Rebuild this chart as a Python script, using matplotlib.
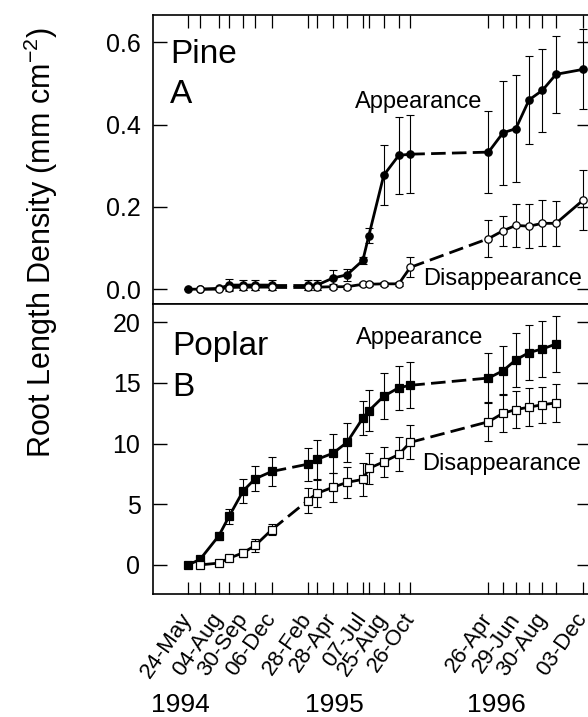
import numpy as np
import matplotlib
matplotlib.use("Agg")
import matplotlib.pyplot as plt
import matplotlib.dates as mdates

plt.rcParams['font.family'] = ['Liberation Sans', 'DejaVu Sans']
plt.rcParams['mathtext.default'] = 'regular'
plt.rcParams['lines.scale_dashes'] = False

# sampling dates (minirhizotron sessions)
dates = np.array(['1994-05-24', '1994-06-21', '1994-08-04', '1994-08-28',
                  '1994-09-30', '1994-10-28', '1994-12-06',
                  '1995-02-28', '1995-03-22', '1995-04-28', '1995-05-31',
                  '1995-07-07', '1995-07-21', '1995-08-25', '1995-09-29',
                  '1995-10-26',
                  '1996-04-26', '1996-05-30', '1996-06-29', '1996-07-30',
                  '1996-08-30', '1996-10-01', '1996-12-03'], dtype='datetime64[D]')
tick_text = ['24-May', '', '04-Aug', '', '30-Sep', '', '06-Dec',
             '28-Feb', '', '28-Apr', '', '07-Jul', '', '25-Aug', '', '26-Oct',
             '26-Apr', '', '29-Jun', '', '30-Aug', '', '03-Dec']
season = np.array([0] * 7 + [1] * 9 + [2] * 7)
years = ['1994', '1995', '1996']

nan = np.nan
pine_app = [0.0, 0.0, 0.002, 0.01, 0.01, 0.01, 0.01,
            0.01, 0.01, 0.027, 0.035, 0.07, 0.13, 0.277, 0.325, 0.328,
            0.333, 0.38, 0.39, 0.46, 0.483, 0.522, 0.534]
pine_app_err = [0.0, 0.0, 0.003, 0.014, 0.013, 0.013, 0.012,
                0.012, 0.012, 0.02, 0.015, 0.008, 0.018, 0.073, 0.094, 0.094,
                0.1, 0.127, 0.13, 0.107, 0.1, 0.094, 0.097]
pine_dis = [nan, 0.0, 0.0, 0.004, 0.005, 0.005, 0.005,
            0.005, 0.005, 0.006, 0.006, 0.012, 0.012, 0.013, 0.013, 0.053,
            0.123, 0.142, 0.155, 0.153, 0.16, 0.16, 0.216]
pine_dis_err = [nan, 0.0, 0.0, 0.006, 0.008, 0.008, 0.008,
                0.008, 0.008, 0.006, 0.005, 0.005, 0.005, 0.005, 0.005, 0.024,
                0.045, 0.037, 0.053, 0.053, 0.056, 0.055, 0.073]

poplar_app = [0.0, 0.45, 2.4, 4.0, 6.1, 7.1, 7.7,
              8.3, 8.7, 9.2, 10.1, 12.1, 12.7, 13.9, 14.6, 14.8,
              15.4, 16.0, 16.9, 17.5, 17.8, 18.2, nan]
poplar_app_err = [0.0, 0.2, 0.35, 0.6, 1.0, 1.05, 1.2,
                  1.37, 1.6, 1.6, 1.6, 1.4, 1.7, 1.9, 1.8, 1.9,
                  2.05, 2.0, 2.25, 2.3, 2.3, 2.3, nan]
poplar_dis = [nan, 0.0, 0.15, 0.55, 1.0, 1.6, 2.9,
              5.3, 5.9, 6.4, 6.8, 7.05, 7.95, 8.5, 9.1, 10.1,
              11.8, 12.5, 12.8, 13.0, 13.2, 13.35, nan]
poplar_dis_err = [nan, 0.0, 0.1, 0.2, 0.35, 0.5, 0.45,
                  1.0, 1.1, 1.2, 1.3, 1.35, 1.3, 1.25, 1.4, 1.4,
                  1.6, 1.55, 1.5, 1.55, 1.5, 1.55, nan]

xnum = mdates.date2num(dates)


def draw_series(ax, y, err, marker, face, z):
    y = np.asarray(y, float)
    err = np.asarray(err, float)
    ok = ~np.isnan(y)
    ax.errorbar(xnum[ok], y[ok], yerr=err[ok], fmt='none', ecolor='k',
                elinewidth=0.8, capsize=3.2, capthick=0.8, zorder=z)
    # solid within a growing season, dashed across the winters
    for s in range(3):
        m = ok & (season == s)
        ax.plot(xnum[m], y[m], '-', color='k', lw=2.0, zorder=z + 0.1)
    for s in range(2):
        i = np.where(ok & (season == s))[0][-1]
        j = np.where(ok & (season == s + 1))[0][0]
        ax.plot(xnum[[i, j]], y[[i, j]], color='k', lw=2.0,
                dashes=(10.5, 4.5), zorder=z + 0.1)
    ax.plot(xnum[ok], y[ok], ls='none', marker=marker, ms=5.3, mfc=face,
            mec='k', mew=0.9, zorder=z + 0.2)


fig = plt.figure(figsize=(5.88, 7.17), dpi=100)
ax1 = fig.add_axes([0.2602, 0.576, 0.745, 0.403])
ax2 = fig.add_axes([0.2602, 0.1715, 0.745, 0.4045])

draw_series(ax1, pine_app, pine_app_err, 'o', 'k', 2)
draw_series(ax1, pine_dis, pine_dis_err, 'o', 'w', 3)
draw_series(ax2, poplar_app, poplar_app_err, 's', 'k', 2)
draw_series(ax2, poplar_dis, poplar_dis_err, 's', 'w', 3)

x0 = mdates.date2num(np.datetime64('1994-05-24'))
for ax in (ax1, ax2):
    ax.set_xlim(x0 - 82, x0 + 943)
    ax.set_xticks(xnum)
    for sp in ax.spines.values():
        sp.set_linewidth(1.2)
    ax.tick_params(axis='y', direction='in', length=10, width=1.0,
                   right=True, labelsize=18, pad=9)
    ax.tick_params(axis='x', direction='in', length=9, width=0.9)

ax1.set_ylim(-0.036, 0.666)
ax1.set_yticks([0.0, 0.2, 0.4, 0.6])
ax1.set_yticklabels(['0.0', '0.2', '0.4', '0.6'])
ax1.tick_params(axis='x', top=True, bottom=False, labelbottom=False)

ax2.set_ylim(-2.4, 21.5)
ax2.set_yticks([0, 5, 10, 15, 20])
ax2.tick_params(axis='x', top=False, bottom=True)
ax2.set_xticklabels(tick_text, rotation=55, ha='right', va='center',
                    rotation_mode='anchor', fontsize=16)
ax2.tick_params(axis='x', pad=15)

ax1.text(0.039, 0.834, 'Pine', transform=ax1.transAxes, fontsize=24)
ax1.text(0.039, 0.695, 'A', transform=ax1.transAxes, fontsize=24)
ax1.text(0.461, 0.678, 'Appearance', transform=ax1.transAxes, fontsize=17)
ax1.text(0.616, 0.066, 'Disappearance', transform=ax1.transAxes, fontsize=17)

ax2.text(0.043, 0.824, 'Poplar', transform=ax2.transAxes, fontsize=24)
ax2.text(0.043, 0.683, 'B', transform=ax2.transAxes, fontsize=24)
ax2.text(0.463, 0.862, 'Appearance', transform=ax2.transAxes, fontsize=17)
ax2.text(0.614, 0.428, 'Disappearance', transform=ax2.transAxes, fontsize=17)

for yr, xc in zip(years, [180, 334, 496]):
    fig.text(xc / 588, 0.007, yr, ha='center', va='baseline', fontsize=19)

fig.text(0.07, 0.662, 'Root Length Density (mm cm$^{-2}$)', rotation=90,
         ha='center', va='center', fontsize=22)

fig.savefig('out.png', dpi=100)
